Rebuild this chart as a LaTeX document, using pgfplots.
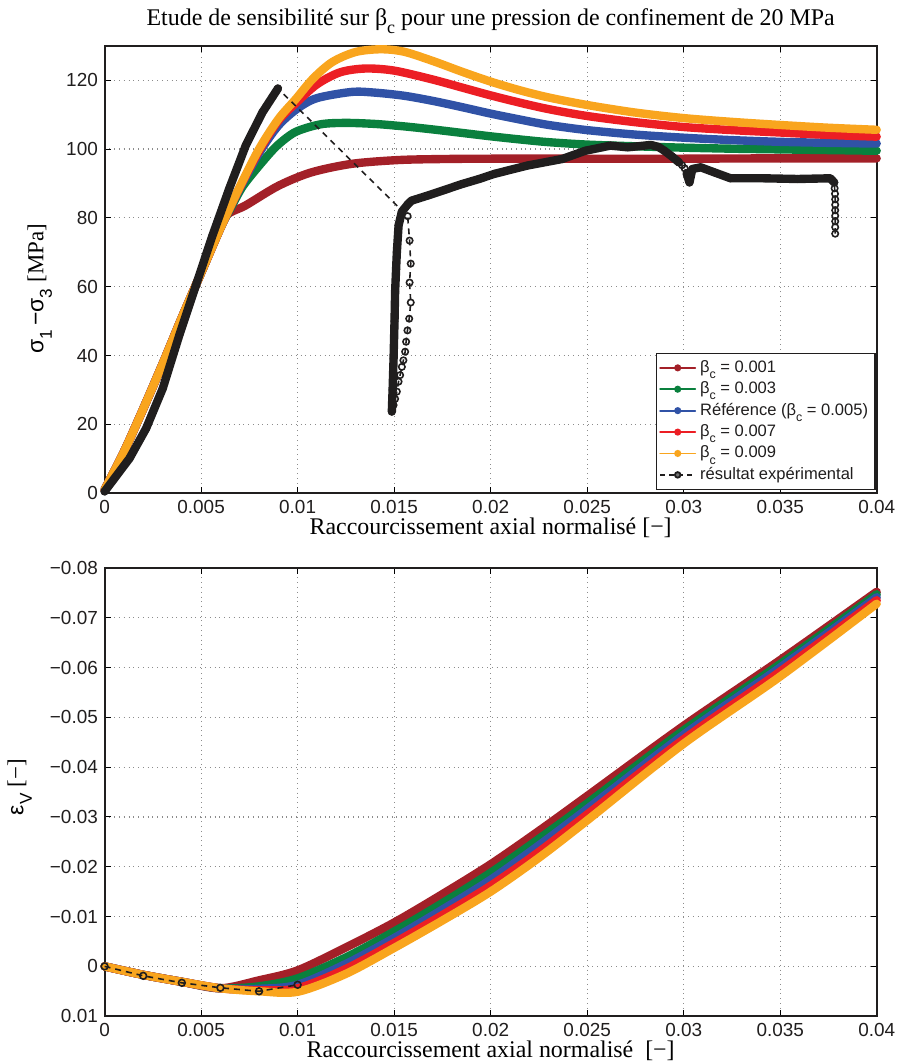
\documentclass[border=0pt]{standalone}
\usepackage{pgfplots}
\pgfplotsset{compat=1.18}
\usepackage{fontspec}
\setmainfont{Liberation Sans}
\newfontfamily\serif{Liberation Serif}
\newcommand{\lsub}[1]{\raisebox{-0.7ex}{\scalebox{0.75}{#1}}}
\definecolor{cbrown}{RGB}{163,32,40}
\definecolor{cgreen}{RGB}{10,128,62}
\definecolor{cblue}{RGB}{48,82,166}
\definecolor{cred}{RGB}{236,30,36}
\definecolor{corange}{RGB}{249,165,30}
\definecolor{cblack}{RGB}{32,30,30}
\pgfplotsset{
  mystyle/.style={
    scale only axis, width=387.5pt,
    xmin=0, xmax=0.04,
    xtick={0,0.005,0.01,0.015,0.02,0.025,0.03,0.035,0.04},
    xticklabels={0,0.005,0.01,0.015,0.02,0.025,0.03,0.035,0.04},
    scaled x ticks=false, scaled y ticks=false,
    tick align=inside, tick pos=both,
    major tick length=3pt,
    tick style={black, line width=0.5pt},
    axis line style={cblack, line width=0.9pt},
    grid=major,
    major grid style={dotted, gray!90, line width=0.6pt},
    tick label style={font=\fontsize{9.5}{11}\selectfont, text=cblack, inner sep=0.5pt},
    xticklabel style={yshift=-2.7pt},
    yticklabel style={xshift=-2.7pt},
    clip=false,
    xlabel style={font=\serif\fontsize{12}{14}\selectfont, at={(axis description cs:0.5,0)}, anchor=center, inner sep=0pt},
  },
  simline/.style={line width=4.2pt, line cap=round, line join=round, smooth, tension=0.5},
  simleg/.style={legend image code/.code={\draw[#1,line width=0.9pt] (0cm,0cm) -- (0.62cm,0cm); \path[fill=#1, draw=none] (0.31cm,0cm) circle (1.8pt);}},
  expleg/.style={legend image code/.code={\draw[cblack,dash pattern=on 2.5pt off 2pt,line width=0.9pt] (0cm,0cm) -- (0.62cm,0cm); \path[draw=cblack,fill=black!55,solid,line width=0.9pt] (0.31cm,0cm) circle (1.4pt);}},
}
\begin{document}
\begin{tikzpicture}
\path[use as bounding box] (-52.5pt,-285pt) rectangle (399pt,247.5pt);
% ---------------- top axis ----------------
\begin{axis}[mystyle, at={(0,0)}, anchor=south west, height=224.5pt,
  ymin=0, ymax=130,
  ytick={0,20,40,60,80,100,120},
  yticklabels={0,20,40,60,80,100,120},
  xlabel={Raccourcissement axial normalisé [−]},
  xlabel style={yshift=-17.5pt},
  ylabel={σ\lsub{1}\,−σ\lsub{3} {\serif[MPa]}},
  ylabel style={font=\fontsize{11.5}{13}\selectfont, at={(axis description cs:-0.084,0.457)}, anchor=center},
  title={{\serif Etude de sensibilité sur} β\lsub{c} {\serif pour une pression de confinement de 20 MPa}},
  title style={font=\serif\fontsize{12}{14}\selectfont, at={(axis description cs:0.5,1)}, anchor=base, yshift=4pt},
  legend style={at={(1,0)}, anchor=south east, xshift=-0.5pt, yshift=1.5pt, draw=cblack, line width=0.7pt,
    font=\fontsize{8.3}{9.5}\selectfont, row sep=-0.8pt, inner sep=1.5pt, text=cblack},
  legend cell align=left,
]
\addplot[simline, cbrown, simleg=cbrown] coordinates {
(0,1) (0.001,12) (0.002,24.5) (0.003,37.5) (0.004,51) (0.005,64) (0.0058,74.5) (0.0063,80.7)
(0.0073,83.6) (0.009,89.3) (0.0107,93.2) (0.0128,95.7) (0.0152,96.8) (0.0175,97.1) (0.02,97.2) (0.025,97.2) (0.03,97.2) (0.035,97.3) (0.04,97.3)};
\addlegendentry{β\lsub{c} = 0.001}
\addplot[simline, cgreen, simleg=cgreen] coordinates {
(0,1) (0.001,12) (0.002,24.5) (0.003,37.5) (0.004,51) (0.005,64) (0.006,77) (0.0066,83.5) (0.0072,89.5)
(0.0083,97.1) (0.009,101.3) (0.0099,105) (0.0112,107.2) (0.0125,107.6) (0.014,107.3) (0.0155,106.6) (0.017,105.7) (0.0185,104.7) (0.02,103.7) (0.0215,102.8) (0.023,102.0) (0.025,101.3) (0.0275,100.8) (0.03,100.4) (0.0325,100.1) (0.035,99.9) (0.0375,99.7) (0.04,99.5)};
\addlegendentry{β\lsub{c} = 0.003}
\addplot[simline, cblue, simleg=cblue] coordinates {
(0,1) (0.001,12) (0.002,24.5) (0.003,37.5) (0.004,51) (0.005,64) (0.006,77) (0.007,88.5) (0.008,98.8)
(0.009,106.8) (0.01,111.8) (0.011,114.8) (0.0128,116.6) (0.014,116.4) (0.0155,115.5) (0.017,114.0) (0.0185,112.2) (0.02,110.3) (0.0215,108.6) (0.023,107.0) (0.025,105.5) (0.0275,104.2) (0.03,103.3) (0.0325,102.6) (0.035,102.1) (0.0375,101.8) (0.04,101.6)};
\addlegendentry{Référence (β\lsub{c} = 0.005)}
\addplot[simline, cred, simleg=cred] coordinates {
(0,1) (0.001,12) (0.002,24.5) (0.003,37.5) (0.004,51) (0.005,64) (0.006,77) (0.007,88.8) (0.008,99.5)
(0.009,108.2) (0.0099,113.3) (0.011,118.8) (0.0122,122.3) (0.0135,123.4) (0.015,122.8) (0.017,120.2) (0.0185,117.9) (0.02,115.6) (0.0215,113.5) (0.023,111.6) (0.025,109.6) (0.0275,107.8) (0.03,106.4) (0.0325,105.5) (0.035,104.8) (0.0375,104.1) (0.04,103.6)};
\addlegendentry{β\lsub{c} = 0.007}
\addplot[simline, corange, simleg=corange] coordinates {
(0,1) (0.001,12) (0.002,24.5) (0.003,37.5) (0.004,51) (0.005,64) (0.006,77) (0.007,89) (0.008,100)
(0.009,108.7) (0.0099,114.5) (0.0108,120.5) (0.0118,125.3) (0.013,128.2) (0.0143,129) (0.0155,128.3) (0.017,125.6) (0.0185,122.5) (0.02,119.6) (0.0215,117.1) (0.023,115.0) (0.025,112.8) (0.0275,110.6) (0.03,109.0) (0.0325,107.9) (0.035,107.0) (0.0375,106.2) (0.04,105.6)};
\addlegendentry{β\lsub{c} = 0.009}
% experimental, full series (dashed with open markers)
\addplot[cblack, line width=0.8pt, dash pattern=on 3pt off 2.5pt, mark=o, mark size=1.6pt, mark options={solid, line width=0.8pt}, expleg] coordinates {
(0,0.5) (0.00129,10.1) (0.00215,18.8) (0.00301,30.4) (0.00387,45.9) (0.00473,60.4) (0.00559,74.9) (0.00645,88.4) (0.00731,101) (0.00817,110.6) (0.00898,117.6)
(0.0157,80.5) (0.0158,73.4) (0.01586,66.7) (0.0158,61.2) (0.01586,55.4) (0.01578,50.7) (0.01569,47.3) (0.01562,44) (0.01557,41.1) (0.01548,38.6) (0.0154,36.7) (0.01531,34.3) (0.01523,32.4) (0.01514,29.5) (0.01505,27.4) (0.01497,25.6) (0.01488,23.7)
(0.01492,30) (0.01497,39.1) (0.01502,50) (0.01505,58.5) (0.0151,65) (0.01514,70) (0.01523,77.8) (0.0154,81.8) (0.0157,83.9) (0.0159,85.0) (0.0168,86.6) (0.0176,88.1) (0.0185,89.8) (0.0194,91.3) (0.0202,92.8) (0.0219,95.2) (0.0237,97.1) (0.0249,99.5) (0.0256,100.3) (0.0262,101) (0.0271,100.5) (0.0283,101.2) (0.0287,100.6) (0.0290,99.5) (0.0294,97.8)
(0.02976,96.1) (0.02992,95.3) (0.03005,94.4) (0.0303,90.3) (0.03045,94.2) (0.03088,94.7) (0.0316,93.2) (0.03243,91.5) (0.03415,91.5) (0.0359,91.3) (0.03759,91.5) (0.0378,90.3)
(0.03782,88.6) (0.03784,87.0) (0.03785,85.4) (0.03785,83.8) (0.03785,82.2) (0.03785,80.6) (0.03785,79.0) (0.03785,77.3) (0.03785,75.4)};
\addlegendentry{résultat expérimental}
% dense experimental parts (thick)
\addplot[cblack, line width=4.2pt, line cap=round, line join=round, forget plot] coordinates {
(0,0.5) (0.00129,10.1) (0.00215,18.8) (0.00301,30.4) (0.00387,45.9) (0.00473,60.4) (0.00559,74.9) (0.00645,88.4) (0.00731,101) (0.00817,110.6) (0.00898,117.6)};
\addplot[cblack, line width=4.2pt, line cap=round, line join=round, forget plot] coordinates {
(0.01488,23.7) (0.01492,30) (0.01497,39.1) (0.01502,50) (0.01505,58.5) (0.0151,65) (0.01514,70) (0.01523,77.8) (0.0154,81.8) (0.0157,83.9) (0.0159,85.0) (0.0168,86.6) (0.0176,88.1) (0.0185,89.8) (0.0194,91.3) (0.0202,92.8) (0.0219,95.2) (0.0237,97.1) (0.0249,99.5) (0.0256,100.3) (0.0262,101) (0.0271,100.5) (0.0283,101.2) (0.0287,100.6) (0.0290,99.5) (0.0294,97.8) (0.02976,96.1)};
\addplot[cblack, line width=4.2pt, line cap=round, line join=round, forget plot] coordinates {
(0.03015,93.0) (0.0303,90.3) (0.03045,94.2) (0.03088,94.7) (0.0316,93.2) (0.03243,91.5) (0.03415,91.5) (0.0359,91.3) (0.03759,91.5) (0.0378,90.3)};
\end{axis}
% ---------------- bottom axis ----------------
\begin{axis}[mystyle, at={(0,-262.5pt)}, anchor=south west, height=225pt,
  ymin=-0.08, ymax=0.01, y dir=reverse,
  ytick={-0.08,-0.07,-0.06,-0.05,-0.04,-0.03,-0.02,-0.01,0,0.01},
  yticklabels={−0.08,−0.07,−0.06,−0.05,−0.04,−0.03,−0.02,−0.01,0,0.01},
  xlabel={Raccourcissement axial normalisé \ [−]},
  xlabel style={yshift=-17.3pt},
  ylabel={ε\lsub{V} {\serif [−]}},
  ylabel style={font=\fontsize{11.5}{13}\selectfont, at={(axis description cs:-0.11,0.511)}, anchor=center},
]
\addplot[simline, cbrown] coordinates {
(0,0) (0.002,0.0017) (0.004,0.0031) (0.006,0.0044) (0.008,0.0028) (0.01,0.0008) (0.0125,-0.0038) (0.015,-0.0088) (0.0175,-0.0145) (0.02,-0.0205) (0.0225,-0.0272) (0.025,-0.0342) (0.03,-0.0483) (0.035,-0.0615) (0.04,-0.0752)};
\addplot[simline, cgreen] coordinates {
(0,0) (0.002,0.0017) (0.004,0.0031) (0.006,0.0044) (0.008,0.0040) (0.01,0.0024) (0.0125,-0.0018) (0.015,-0.0070) (0.0175,-0.0127) (0.02,-0.0188) (0.0225,-0.0256) (0.025,-0.0327) (0.03,-0.0474) (0.035,-0.0607) (0.04,-0.0747)};
\addplot[simline, cblue] coordinates {
(0,0) (0.002,0.0017) (0.004,0.0031) (0.006,0.0044) (0.008,0.0045) (0.01,0.0037) (0.0125,-0.0005) (0.015,-0.0057) (0.0175,-0.0114) (0.02,-0.0174) (0.0225,-0.0243) (0.025,-0.0316) (0.03,-0.0465) (0.035,-0.0600) (0.04,-0.0741)};
\addplot[simline, cred] coordinates {
(0,0) (0.002,0.0017) (0.004,0.0031) (0.006,0.0044) (0.008,0.0048) (0.01,0.0044) (0.0125,0.0005) (0.015,-0.0047) (0.0175,-0.0103) (0.02,-0.0162) (0.0225,-0.0230) (0.025,-0.0305) (0.03,-0.0456) (0.035,-0.0592) (0.04,-0.0735)};
\addplot[simline, corange] coordinates {
(0,0) (0.002,0.0017) (0.004,0.0031) (0.006,0.0044) (0.008,0.0050) (0.01,0.0051) (0.0125,0.0015) (0.015,-0.0037) (0.0175,-0.0092) (0.02,-0.0150) (0.0225,-0.0218) (0.025,-0.0293) (0.03,-0.0447) (0.035,-0.0582) (0.04,-0.0728)};
\addplot[cblack, line width=0.8pt, dash pattern=on 3pt off 2.5pt, mark=o, mark size=1.7pt, mark options={solid, line width=0.8pt}] coordinates {
(0,0) (0.002,0.0019) (0.004,0.0033) (0.006,0.0043) (0.008,0.005) (0.01,0.0037)};
\end{axis}
\end{tikzpicture}
\end{document}
